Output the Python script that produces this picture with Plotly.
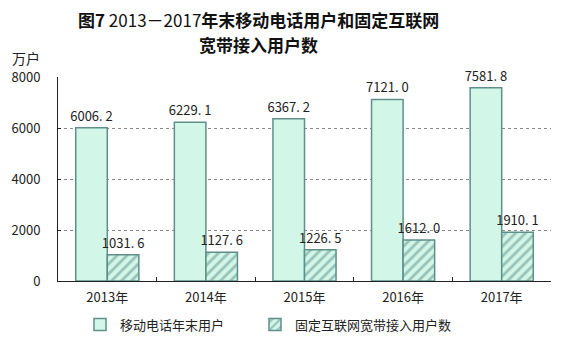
import plotly.graph_objects as go

years = ["2013年", "2014年", "2015年", "2016年", "2017年"]
mobile = [6006.2, 6229.1, 6367.2, 7121.0, 7581.8]
broadband = [1031.6, 1127.6, 1226.5, 1612.0, 1910.1]
mobile_name = "移动电话年末用户"
broadband_name = "固定互联网宽带接入用户数"
title_line1 = "<b>图7</b> 2013－2017<b>年末移动电话用户和固定互联网</b>"
title_line2 = "<b>宽带接入用户数</b>"

def fmt(v):
    s = f"{v:.1f}"
    a, b = s.split(".")
    return f"{a}. {b}"

font = "Noto Sans CJK SC, Noto Sans, sans-serif"
edge = "#5f8f88"
fill = "#d2f7e8"

fig = go.Figure()
fig.add_trace(go.Bar(
    x=years, y=mobile, name=mobile_name, legend="legend",
    marker=dict(color=fill, line=dict(color=edge, width=1.5)),
    text=[fmt(v) for v in mobile], textposition="outside", constraintext="none",
    textfont=dict(size=13, color="#222"), cliponaxis=False,
))
fig.add_trace(go.Bar(
    x=years, y=broadband, name=broadband_name, legend="legend2",
    marker=dict(color=fill, line=dict(color=edge, width=1.5),
                pattern=dict(shape="/", fgcolor="#5f8f88", bgcolor=fill, size=7, solidity=0.4)),
    text=[fmt(v) for v in broadband], textposition="outside", constraintext="none",
    textfont=dict(size=13, color="#222"), cliponaxis=False,
))

legend_common = dict(orientation="h", xanchor="left", y=-0.14, yanchor="top",
                     font=dict(size=13), itemwidth=30, bgcolor="rgba(0,0,0,0)")
fig.update_layout(
    width=569, height=351,
    margin=dict(l=58, r=18, t=77, b=67),
    paper_bgcolor="white", plot_bgcolor="white",
    font=dict(family=font, size=12, color="#222"),
    barmode="group", bargap=0.36, bargroupgap=0,
    showlegend=True,
    legend=dict(x=(80-58)/493, **legend_common),
    legend2=dict(x=(255-58)/493, **legend_common),
)
def py(pix):
    return 1 + (77 - pix) / 207
fig.add_annotation(text=title_line1, xref="paper", yref="paper", x=(258-58)/493, y=py(19),
                   xanchor="center", yanchor="middle", showarrow=False,
                   font=dict(size=17, color="#111"))
fig.add_annotation(text=title_line2, xref="paper", yref="paper", x=(258-58)/493, y=py(44),
                   xanchor="center", yanchor="middle", showarrow=False,
                   font=dict(size=17, color="#111"))
fig.add_annotation(text="万户", xref="paper", yref="paper", x=(10-58)/493, y=py(58),
                   xanchor="left", yanchor="middle", showarrow=False, font=dict(size=14))
fig.update_xaxes(showline=True, linecolor="#222", linewidth=1, ticks="inside",
                 tickson="boundaries", ticklen=4, tickcolor="#222", showgrid=False,
                 tickfont=dict(size=13), ticklabelstandoff=4)
fig.update_yaxes(range=[0, 8000], dtick=2000, showline=True, linecolor="#222", linewidth=1,
                 showgrid=True, gridcolor="#888", griddash="dot", gridwidth=1,
                 ticks="inside", ticklen=3, tickcolor="#222", tickfont=dict(size=13),
                 ticklabelstandoff=14, zeroline=False)

fig.write_html("out.html")
